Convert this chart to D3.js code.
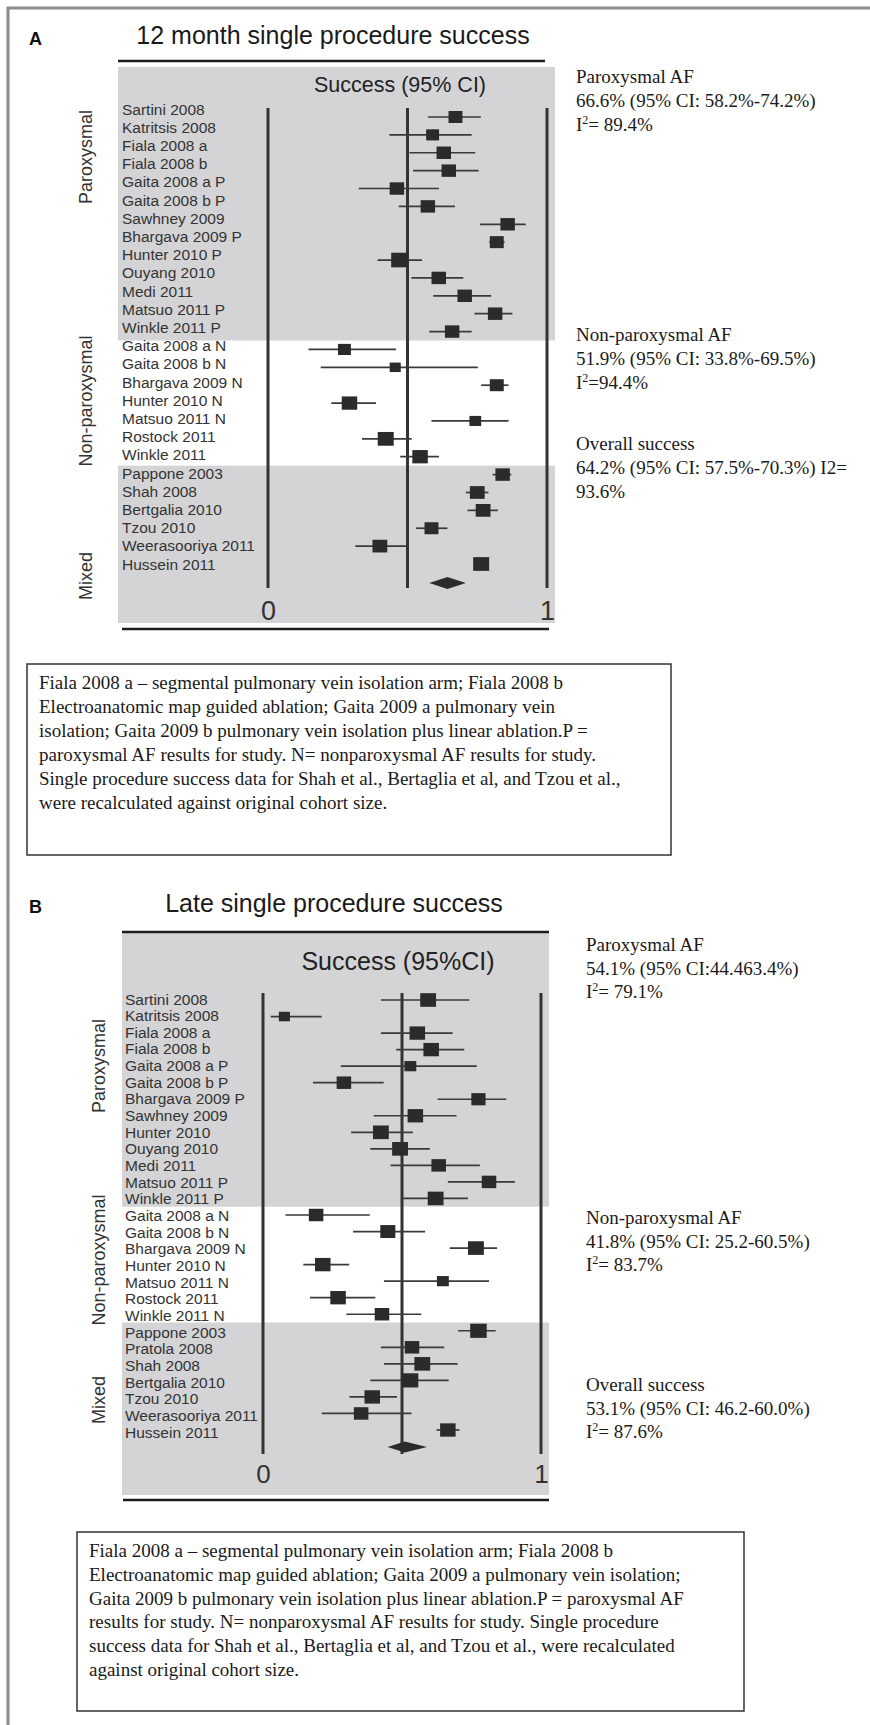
<!DOCTYPE html>
<html>
<head>
<meta charset="utf-8">
<script src="https://cdn.jsdelivr.net/npm/d3@7"></script>
<style>
  body { margin: 0; background: #fff; }
</style>
</head>
<body>
<div id="chart"></div>
<script>
// ---------- DATA ----------
var groupNames = ["Paroxysmal", "Non-paroxysmal", "Mixed"];
var axisTicks = [0, 1];
var refLines = [0, 0.5, 1];

// A: 12 month single procedure success
var studiesA = ["Sartini 2008", "Katritsis 2008", "Fiala 2008 a", "Fiala 2008 b", "Gaita 2008 a P",
  "Gaita 2008 b P", "Sawhney 2009", "Bhargava 2009 P", "Hunter 2010 P", "Ouyang 2010", "Medi 2011",
  "Matsuo 2011 P", "Winkle 2011 P",
  "Gaita 2008 a N", "Gaita 2008 b N", "Bhargava 2009 N", "Hunter 2010 N", "Matsuo 2011 N",
  "Rostock 2011", "Winkle 2011",
  "Pappone 2003", "Shah 2008", "Bertgalia 2010", "Tzou 2010", "Weerasooriya 2011", "Hussein 2011"];
var groupSizeA = [13, 7, 6];
var successA = [0.672, 0.590, 0.630, 0.648, 0.462, 0.573, 0.859, 0.820, 0.472, 0.612, 0.705, 0.814, 0.660,
  0.274, 0.456, 0.820, 0.292, 0.743, 0.422, 0.545,
  0.841, 0.750, 0.771, 0.586, 0.401, 0.764];
var lowerA = [0.574, 0.435, 0.507, 0.520, 0.325, 0.469, 0.760, 0.793, 0.393, 0.514, 0.592, 0.740, 0.578,
  0.145, 0.189, 0.764, 0.227, 0.586, 0.337, 0.474,
  0.805, 0.709, 0.715, 0.531, 0.313, 0.752];
var upperA = [0.763, 0.730, 0.743, 0.755, 0.613, 0.670, 0.924, 0.848, 0.552, 0.700, 0.800, 0.876, 0.730,
  0.459, 0.752, 0.862, 0.387, 0.862, 0.515, 0.613,
  0.872, 0.790, 0.824, 0.643, 0.496, 0.776];
var weightA = [82, 76, 85, 85, 85, 85, 85, 82, 100, 85, 85, 85, 85,
  76, 65, 82, 91, 69, 94, 91,
  85, 87, 87, 82, 87, 94];
var pooledA = [0.578, 0.643, 0.709];
var summaryA = [
  ["Paroxysmal AF", "66.6% (95% CI: 58.2%-74.2%)", "I^2= 89.4%"],
  ["Non-paroxysmal AF", "51.9% (95% CI: 33.8%-69.5%)", "I^2=94.4%"],
  ["Overall success", "64.2% (95% CI: 57.5%-70.3%) I2=", "93.6%"]
];
var notesA = [
  "Fiala 2008 a \u2013 segmental pulmonary vein isolation arm; Fiala 2008 b",
  "Electroanatomic map guided ablation; Gaita 2009 a pulmonary vein",
  "isolation; Gaita 2009 b pulmonary vein isolation plus linear ablation.P =",
  "paroxysmal AF results for study. N= nonparoxysmal AF results for study.",
  "Single procedure success data for Shah et al., Bertaglia et al, and Tzou et al.,",
  "were recalculated against original cohort size."
];

// B: late single procedure success
var studiesB = ["Sartini 2008", "Katritsis 2008", "Fiala 2008 a", "Fiala 2008 b", "Gaita 2008 a P",
  "Gaita 2008 b P", "Bhargava 2009 P", "Sawhney 2009", "Hunter 2010", "Ouyang 2010", "Medi 2011",
  "Matsuo 2011 P", "Winkle 2011 P",
  "Gaita 2008 a N", "Gaita 2008 b N", "Bhargava 2009 N", "Hunter 2010 N", "Matsuo 2011 N",
  "Rostock 2011", "Winkle 2011 N",
  "Pappone 2003", "Pratola 2008", "Shah 2008", "Bertgalia 2010", "Tzou 2010", "Weerasooriya 2011",
  "Hussein 2011"];
var groupSizeB = [13, 7, 7];
var successB = [0.594, 0.077, 0.555, 0.605, 0.530, 0.291, 0.775, 0.548, 0.424, 0.493, 0.632, 0.813, 0.621,
  0.191, 0.449, 0.766, 0.215, 0.647, 0.270, 0.428,
  0.775, 0.536, 0.573, 0.529, 0.393, 0.353, 0.665];
var lowerB = [0.424, 0.028, 0.424, 0.479, 0.280, 0.180, 0.628, 0.398, 0.317, 0.386, 0.459, 0.665, 0.500,
  0.081, 0.324, 0.672, 0.145, 0.435, 0.169, 0.300,
  0.702, 0.424, 0.435, 0.386, 0.311, 0.211, 0.624];
var upperB = [0.742, 0.211, 0.682, 0.724, 0.769, 0.434, 0.875, 0.696, 0.539, 0.600, 0.780, 0.906, 0.737,
  0.384, 0.583, 0.842, 0.310, 0.813, 0.404, 0.569,
  0.837, 0.652, 0.700, 0.668, 0.482, 0.534, 0.707];
var weightB = [96, 67, 94, 94, 72, 88, 86, 94, 96, 96, 88, 88, 96,
  88, 91, 96, 94, 72, 94, 88,
  100, 88, 96, 100, 94, 88, 94];
var pooledB = [0.448, 0.51, 0.590];
var summaryB = [
  ["Paroxysmal AF", "54.1% (95% CI:44.463.4%)", "I^2= 79.1%"],
  ["Non-paroxysmal AF", "41.8% (95% CI: 25.2-60.5%)", "I^2= 83.7%"],
  ["Overall success", "53.1% (95% CI: 46.2-60.0%)", "I^2= 87.6%"]
];
var notesB = [
  "Fiala 2008 a \u2013 segmental pulmonary vein isolation arm; Fiala 2008 b",
  "Electroanatomic map guided ablation; Gaita 2009 a pulmonary vein isolation;",
  "Gaita 2009 b pulmonary vein isolation plus linear ablation.P = paroxysmal AF",
  "results for study. N= nonparoxysmal AF results for study. Single procedure",
  "success data for Shah et al., Bertaglia et al, and Tzou et al., were recalculated",
  "against original cohort size."
];

// ---------- DRAWING ----------
var SANS = "'Liberation Sans', Arial, Helvetica, sans-serif";
var SERIF = "'Liberation Serif', 'Times New Roman', serif";
var INK = "#2b2b2b";

var svg = d3.select("#chart").append("svg")
    .attr("width", 870)
    .attr("height", 1725)
    .style("display", "block");

// outer frame (top and left edges only are visible)
svg.append("path")
    .attr("d", "M8,1725 V8 H870")
    .attr("fill", "none")
    .attr("stroke", "#8c8c8c")
    .attr("stroke-width", 3);

function drawPanel(p) {
  var g = svg.append("g");
  var n = p.studies.length;

  var x = d3.scaleLinear().domain([0, 1]).range(p.xRange);
  var yLab = d3.scaleLinear().domain([0, n - 1]).range(p.labelRange);
  var yMark = d3.scaleLinear().domain([0, n - 1]).range(p.markRange);
  var size = d3.scaleLinear().domain([0, 100]).range([0, p.maxSquare]);

  // group bands
  var starts = [], s = 0;
  p.groupSize.forEach(function(c) { starts.push(s); s += c; });
  starts.forEach(function(st, i) {
    var en = st + p.groupSize[i] - 1;
    var top = i === 0 ? p.panelTop : (yMark(st - 1) + yMark(st)) / 2;
    var bot = i === starts.length - 1 ? p.panelBottom : (yMark(en) + yMark(en + 1)) / 2;
    if (i % 2 === 0) {
      g.append("rect")
          .attr("x", p.panelLeft)
          .attr("y", top)
          .attr("width", p.panelRight - p.panelLeft)
          .attr("height", bot - top)
          .attr("fill", "#d4d4d6");
    }
  });

  // rules above and below
  g.append("line")
      .attr("x1", p.ruleX[0]).attr("x2", p.ruleX[1])
      .attr("y1", p.ruleTop).attr("y2", p.ruleTop)
      .attr("stroke", "#1e1e1e").attr("stroke-width", 2.6);
  g.append("line")
      .attr("x1", p.ruleBotX[0]).attr("x2", p.ruleBotX[1])
      .attr("y1", p.ruleBottom).attr("y2", p.ruleBottom)
      .attr("stroke", "#1e1e1e").attr("stroke-width", 2.6);

  // panel letter and title
  g.append("text")
      .attr("x", 29).attr("y", p.letterY)
      .attr("font-family", SANS).attr("font-size", 18).attr("font-weight", "bold")
      .attr("fill", "#111")
      .text(p.letter);
  g.append("text")
      .attr("x", p.titleX).attr("y", p.titleY)
      .attr("text-anchor", "middle")
      .attr("font-family", SANS).attr("font-size", p.titleSize)
      .attr("fill", "#1a1a1a")
      .text(p.title);

  g.append("text")
      .attr("x", p.headX).attr("y", p.headY)
      .attr("text-anchor", "middle")
      .attr("font-family", SANS).attr("font-size", p.headSize)
      .attr("fill", "#222")
      .text(p.head);

  // reference lines at 0, 0.5, 1
  g.selectAll(".ref")
      .data(refLines)
      .enter().append("line")
      .attr("x1", function(d) { return x(d); })
      .attr("x2", function(d) { return x(d); })
      .attr("y1", p.refTop)
      .attr("y2", p.refBottom)
      .attr("stroke", "#333")
      .attr("stroke-width", 3);

  var idx = d3.range(n);

  // confidence intervals
  g.selectAll(".ci")
      .data(idx)
      .enter().append("line")
      .attr("x1", function(i) { return x(p.lower[i]); })
      .attr("x2", function(i) { return x(p.upper[i]); })
      .attr("y1", function(i) { return yMark(i); })
      .attr("y2", function(i) { return yMark(i); })
      .attr("stroke", "#3a3a3a")
      .attr("stroke-width", 1.7);

  // study squares
  g.selectAll(".sq")
      .data(idx)
      .enter().append("rect")
      .attr("x", function(i) { return x(p.success[i]) - size(p.weight[i]) / 2; })
      .attr("y", function(i) { return yMark(i) - size(p.weight[i]) * 0.43; })
      .attr("width", function(i) { return size(p.weight[i]); })
      .attr("height", function(i) { return size(p.weight[i]) * 0.86; })
      .attr("fill", INK);

  // pooled diamond
  var dy = p.diamondY, dh = p.diamondH / 2;
  var pts = [[x(p.pooled[0]), dy], [x(p.pooled[1]), dy - dh], [x(p.pooled[2]), dy], [x(p.pooled[1]), dy + dh]];
  g.append("path")
      .attr("d", d3.line()(pts) + "Z")
      .attr("fill", INK);

  // study labels
  g.selectAll(".lab")
      .data(p.studies)
      .enter().append("text")
      .attr("x", p.labelX)
      .attr("y", function(d, i) { return yLab(i) + 5.5; })
      .attr("font-family", SANS).attr("font-size", 15.5)
      .attr("fill", "#333")
      .text(function(d) { return d; });

  // group labels
  groupNames.forEach(function(name, i) {
    if (i >= p.groupSize.length) return;
    g.append("text")
        .attr("transform", "translate(" + p.groupX + "," + p.groupY[i] + ") rotate(-90)")
        .attr("text-anchor", "middle")
        .attr("font-family", SANS).attr("font-size", 18)
        .attr("fill", "#333")
        .text(name);
  });

  // x axis 0 / 1
  var ax = g.append("g")
      .attr("transform", "translate(0," + p.axisY + ")")
      .call(d3.axisBottom(x).tickValues(axisTicks).tickSize(0).tickPadding(0).tickFormat(d3.format("d")));
  ax.select(".domain").remove();
  ax.selectAll("text")
      .attr("font-family", SANS)
      .attr("font-size", p.axisSize)
      .attr("fill", "#333");

  // summary text on the right
  p.summary.forEach(function(block, b) {
    block.forEach(function(line, j) {
      var t = g.append("text")
          .attr("x", p.sumX)
          .attr("y", p.sumY[b] + j * p.sumStep)
          .attr("font-family", SERIF).attr("font-size", 19)
          .attr("fill", "#1a1a1a");
      if (line.indexOf("^2") > -1) {
        var parts = line.split("^2");
        t.append("tspan").text(parts[0]);
        t.append("tspan").attr("dy", -7).attr("font-size", 12).text("2");
        t.append("tspan").attr("dy", 7).text(parts[1]);
      } else {
        t.text(line);
      }
    });
  });

  // footnote box
  g.append("rect")
      .attr("x", p.box[0]).attr("y", p.box[1])
      .attr("width", p.box[2] - p.box[0]).attr("height", p.box[3] - p.box[1])
      .attr("fill", "none").attr("stroke", "#333").attr("stroke-width", 1.5);
  g.selectAll(".note")
      .data(p.notes)
      .enter().append("text")
      .attr("x", p.box[0] + 12)
      .attr("y", function(d, i) { return p.noteY + i * p.noteStep; })
      .attr("font-family", SERIF).attr("font-size", 19)
      .attr("fill", "#1a1a1a")
      .text(function(d) { return d; });
}

drawPanel({
  letter: "A", letterY: 45,
  title: "12 month single procedure success", titleX: 333, titleY: 44, titleSize: 25,
  head: "Success (95% CI)", headX: 400, headY: 92, headSize: 21.5,
  studies: studiesA, groupSize: groupSizeA, success: successA, lower: lowerA, upper: upperA,
  weight: weightA, pooled: pooledA, summary: summaryA, notes: notesA,
  xRange: [268, 547], labelRange: [109, 564], markRange: [117, 564], maxSquare: 17,
  panelLeft: 118, panelRight: 555, panelTop: 67, panelBottom: 623,
  ruleX: [118, 545], ruleTop: 61, ruleBotX: [122, 549], ruleBottom: 629,
  refTop: 108, refBottom: 588,
  diamondY: 583, diamondH: 12,
  labelX: 122, groupX: 91.5, groupY: [157, 401, 576],
  axisY: 601, axisSize: 27,
  sumX: 576, sumY: [83, 341, 450], sumStep: 24,
  box: [27, 664, 671, 855], noteY: 689, noteStep: 24
});

drawPanel({
  letter: "B", letterY: 913,
  title: "Late single procedure success", titleX: 334, titleY: 912, titleSize: 25,
  head: "Success (95%CI)", headX: 398, headY: 970, headSize: 25,
  studies: studiesB, groupSize: groupSizeB, success: successB, lower: lowerB, upper: upperB,
  weight: weightB, pooled: pooledB, summary: summaryB, notes: notesB,
  xRange: [263, 541], labelRange: [999, 1432], markRange: [1000, 1430], maxSquare: 16.5,
  panelLeft: 122, panelRight: 549, panelTop: 933, panelBottom: 1495,
  ruleX: [122, 549], ruleTop: 932, ruleBotX: [123, 549], ruleBottom: 1500,
  refTop: 993, refBottom: 1454,
  diamondY: 1447, diamondH: 11,
  labelX: 125, groupX: 105, groupY: [1066, 1260, 1400],
  axisY: 1465, axisSize: 26,
  sumX: 586, sumY: [951, 1224, 1391], sumStep: 23.5,
  box: [77, 1532, 744, 1711], noteY: 1557, noteStep: 23.8
});
</script>
</body>
</html>
